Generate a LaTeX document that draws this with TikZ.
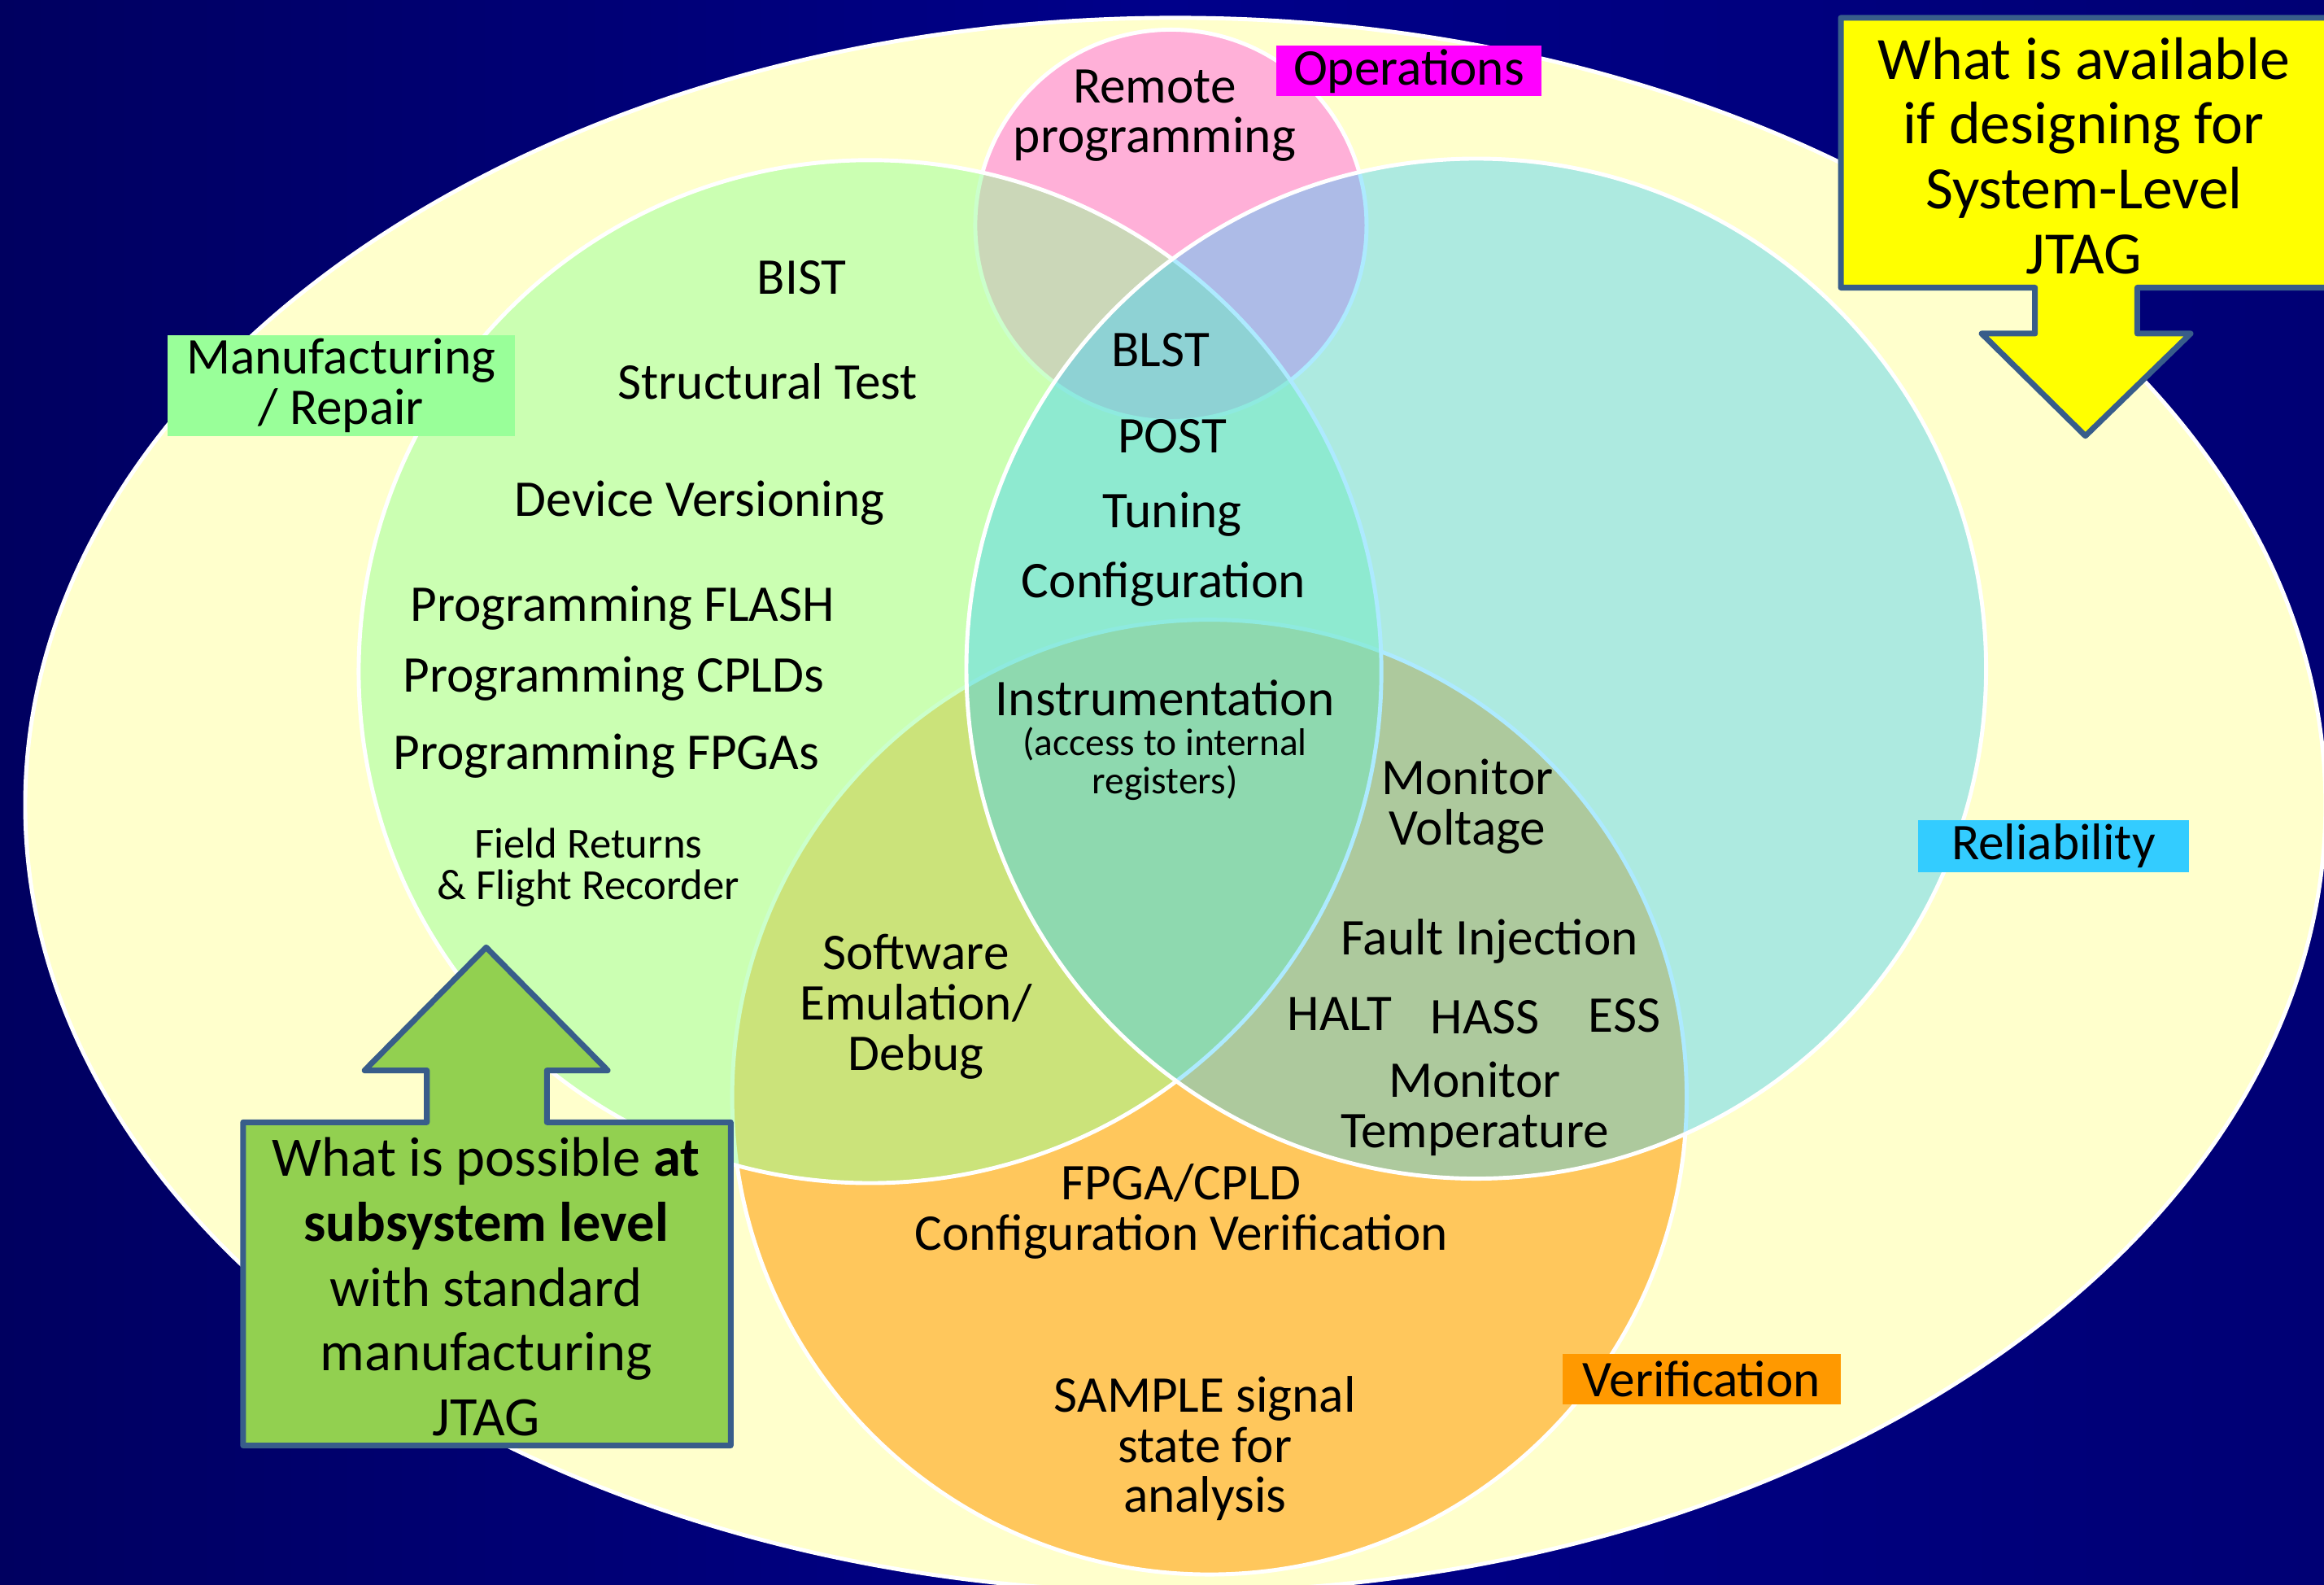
\documentclass[tikz,border=0pt]{standalone}
\usepackage{fontspec}
\setmainfont{Carlito}
\usepackage{tikz}

\definecolor{bgdark}{RGB}{0,0,96}
\definecolor{bgmid}{RGB}{0,0,138}
\definecolor{bgright}{RGB}{0,0,116}
\definecolor{paleyellow}{RGB}{255,255,204}
\definecolor{mfggreen}{RGB}{153,255,153}
\definecolor{relcyan}{RGB}{51,204,255}
\definecolor{veriforange}{RGB}{255,153,0}
\definecolor{opsmagenta}{RGB}{255,0,255}
\definecolor{opspink}{RGB}{255,176,216}
\definecolor{calloutgreen}{RGB}{146,208,80}
\definecolor{calloutyellow}{RGB}{255,255,0}
\definecolor{calloutedge}{RGB}{56,93,138}

\tikzset{
  vennring/.style={draw=white, line width=1.4pt},
  vennitem/.style={font=\fontsize{18}{17.6}\selectfont, align=center, inner sep=0pt},
  smallitem/.style={font=\fontsize{15}{14.5}\selectfont, align=center, inner sep=0pt},
  tinyitem/.style={font=\fontsize{13.5}{13.4}\selectfont, align=center, inner sep=0pt},
  areatag/.style={font=\fontsize{18}{17.6}\selectfont, align=center, inner sep=0pt},
  callout/.style={draw=calloutedge, line width=2pt, line join=round},
  calloutitem/.style={font=\fontsize{21}{22.7}\selectfont, align=center, inner sep=0pt},
  calloutbold/.style={font=\fontsize{19.5}{22.7}\selectfont, align=center, inner sep=0pt},
}

\begin{document}
\begin{tikzpicture}[x=0.1822mm, y=-0.1822mm]
  \clip (0,0) rectangle (1568,1069);
  \shade[left color=bgdark, right color=bgright, middle color=bgmid] (0,0) rectangle (1568,1069);

  % system level ellipse
  \draw[vennring, fill=paleyellow] (793,543) ellipse [x radius=776, y radius=531];

  % areas
  \draw[vennring, fill=opspink] (790,152) circle [radius=132];
  \draw[vennring, fill=veriforange, fill opacity=0.55] (816,740) circle [radius=322];
  \draw[vennring, fill=mfggreen, fill opacity=0.5] (587,453) circle [radius=345];
  \draw[vennring, fill=relcyan, fill opacity=0.4] (996,451) circle [radius=344];

  % area tags
  \node[areatag, fill=opsmagenta, minimum width=32.6mm, minimum height=6.2mm] (ops) at (950.5,48) {Operations};
  \node[areatag, fill=mfggreen, minimum width=42.7mm, minimum height=12.4mm] (mfg) at (230,260) {Manufacturing\\/ Repair};
  \node[areatag, fill=relcyan, minimum width=33.3mm, minimum height=6.4mm] (rel) at (1385.5,570.5) {Reliability};
  \node[areatag, fill=veriforange, minimum width=34.2mm, minimum height=6.2mm] (ver) at (1148,930) {Verification};

  % items
  \node[vennitem] (remote) at (779,78) {Remote\\programming};
  \node[vennitem] (bist) at (541,187) {BIST};
  \node[vennitem] (structural) at (518,257) {Structural Test};
  \node[vennitem] (versioning) at (472,339) {Device Versioning};
  \node[vennitem] (flash) at (420,410) {Programming FLASH};
  \node[vennitem] (cplds) at (414,458) {Programming CPLDs};
  \node[vennitem] (fpgas) at (409,510) {Programming FPGAs};
  \node[smallitem] (returns) at (397,585) {Field Returns\\\& Flight Recorder};
  \node[vennitem] (blst) at (783,236) {BLST};
  \node[vennitem] (post) at (791,294) {POST};
  \node[vennitem] (tuning) at (791,347) {Tuning};
  \node[vennitem] (config) at (785,394) {Configuration};
  \node[vennitem] (instr) at (786,471) {Instrumentation};
  \node[tinyitem] (access) at (786,515) {(access to internal\\registers)};
  \node[vennitem] (voltage) at (990,544) {Monitor\\Voltage};
  \node[vennitem] (fault) at (1005,635) {Fault Injection};
  \node[vennitem] (halt) at (904,684) {HALT};
  \node[vennitem] (hass) at (1002,686) {HASS};
  \node[vennitem] (ess) at (1096,685) {ESS};
  \node[vennitem] (temp) at (995,748) {Monitor\\Temperature};
  \node[vennitem] (emul) at (618,679) {Software\\Emulation/\\Debug};
  \node[vennitem] (fpgaver) at (797,817) {FPGA/CPLD\\Configuration Verification};
  \node[vennitem] (sample) at (813,977) {SAMPLE signal\\state for\\analysis};

  % callouts
  \draw[callout, fill=calloutyellow] (1242,12) -- (1242,194) -- (1373,194) -- (1373,225) -- (1337,225) -- (1407,294) -- (1478,225) -- (1442,225) -- (1442,194) -- (1580,194) -- (1580,12) -- cycle;
  \node[calloutitem] (available) at (1406,105) {What is available\\if designing for\\System-Level\\JTAG};
  \draw[callout, fill=calloutgreen] (164,757) -- (164,975) -- (493,975) -- (493,757) -- (369,757) -- (369,722) -- (410,722) -- (328,639) -- (246,722) -- (288,722) -- (288,757) -- cycle;
  \node[calloutbold] (possible) at (328,868) {What is possible \textbf{at}\\\textbf{subsystem level}\\with standard\\manufacturing\\JTAG};
\end{tikzpicture}
\end{document}
